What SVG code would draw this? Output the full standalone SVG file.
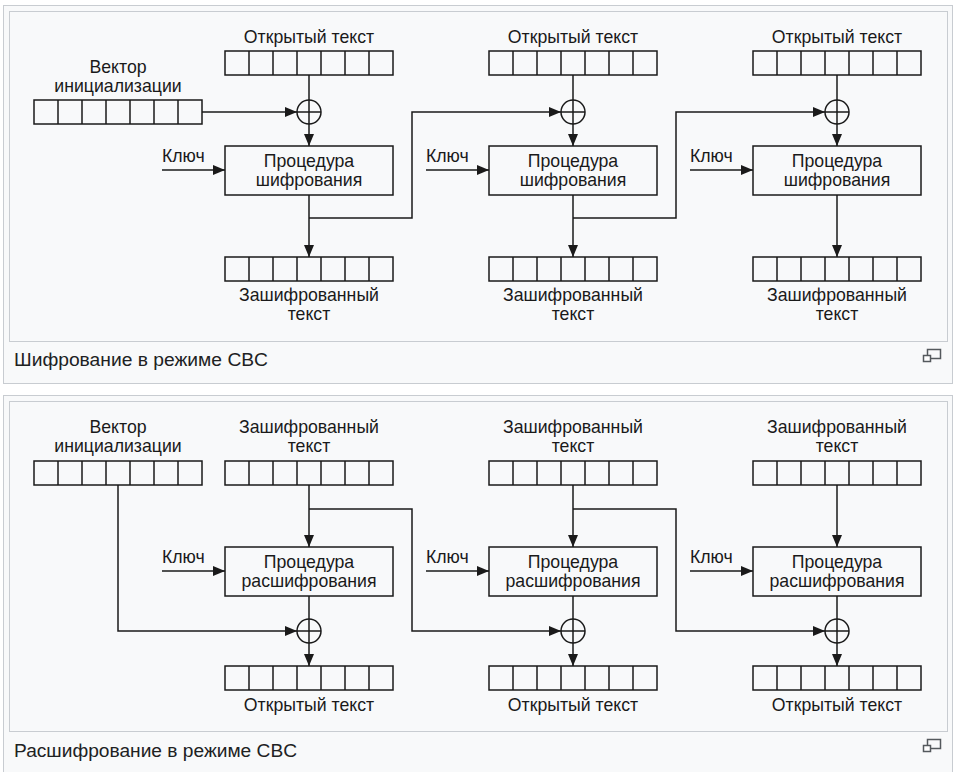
<svg xmlns="http://www.w3.org/2000/svg" xmlns:xlink="http://www.w3.org/1999/xlink" width="956" height="772" viewBox="0 0 956 772">
<style>
.frame{fill:#f8f9fa;stroke:#c8ccd1;stroke-width:1}
.img{fill:#f8f9fa;stroke:#c8ccd1;stroke-width:1}
.t{font-family:"Liberation Sans",Arial,sans-serif;font-size:17.7px;fill:#1a1a1a;text-anchor:middle}
.k{font-family:"Liberation Sans",Arial,sans-serif;font-size:17.7px;fill:#1a1a1a}
.cap{font-family:"Liberation Sans",Arial,sans-serif;font-size:17.5px;fill:#202122}
.box{fill:none;stroke:#1a1a1a;stroke-width:1.5}
.ln{fill:none;stroke:#1a1a1a;stroke-width:1.5}
.arr{fill:none;stroke:#1a1a1a;stroke-width:1.5;marker-end:url(#ah)}
.icon{fill:#f8f9fa;stroke:#54595d;stroke-width:1.5}
</style>
<defs>
<marker id="ah" viewBox="0 0 12 10" refX="12" refY="5" markerWidth="12" markerHeight="10" markerUnits="userSpaceOnUse" orient="auto">
<path d="M0,0 L12,5 L0,10 z" fill="#1a1a1a"/>
</marker>
<g id="cells">
<rect x="0" y="0" width="168" height="24" class="box"/>
<path d="M24,0V24M48,0V24M72,0V24M96,0V24M120,0V24M144,0V24" class="ln"/>
</g>
<g id="xor">
<circle cx="0" cy="0" r="12" class="box"/>
<path d="M-12,0H12M0,-12V12" class="ln"/>
</g>
</defs>
<rect x="0" y="0" width="956" height="772" fill="#ffffff"/>

<!-- Frames -->
<g id="frame-top">
<rect x="3.5" y="5.5" width="949" height="378" class="frame"/>
<rect x="9.5" y="11.5" width="938" height="330" class="img"/>
<text x="14" y="366" class="cap" textLength="254" lengthAdjust="spacingAndGlyphs">Шифрование в режиме CBC</text>
<rect x="927.5" y="349.5" width="13" height="9" class="icon"/>
<rect x="923.5" y="355.5" width="7" height="6" class="icon" style="fill:#fff"/>
</g>
<g id="frame-bottom">
<rect x="3.5" y="395.5" width="949" height="380" class="frame"/>
<rect x="9.5" y="401.5" width="938" height="330" class="img"/>
<text x="14" y="757" class="cap" textLength="283" lengthAdjust="spacingAndGlyphs">Расшифрование в режиме CBC</text>
<rect x="927.5" y="739.5" width="13" height="9" class="icon"/>
<rect x="923.5" y="745.5" width="7" height="6" class="icon" style="fill:#fff"/>
</g>

<!-- ENCRYPTION -->
<g id="enc-iv">
<text x="118" y="73" class="t">Вектор</text>
<text x="118" y="92" class="t">инициализации</text>
<use xlink:href="#cells" x="34" y="100"/>
</g>
<g id="enc-p1">
<text x="309" y="43" class="t">Открытый текст</text>
<use xlink:href="#cells" x="225" y="51"/>
</g>
<g id="enc-p2">
<text x="573" y="43" class="t">Открытый текст</text>
<use xlink:href="#cells" x="489" y="51"/>
</g>
<g id="enc-p3">
<text x="837" y="43" class="t">Открытый текст</text>
<use xlink:href="#cells" x="753" y="51"/>
</g>
<g id="enc-x1"><use xlink:href="#xor" x="309" y="112"/></g>
<g id="enc-x2"><use xlink:href="#xor" x="573" y="112"/></g>
<g id="enc-x3"><use xlink:href="#xor" x="837" y="112"/></g>
<g id="enc-b1">
<rect x="225" y="146" width="168" height="49" class="box"/>
<text x="309" y="167" class="t">Процедура</text>
<text x="309" y="186" class="t">шифрования</text>
</g>
<g id="enc-b2">
<rect x="489" y="146" width="168" height="49" class="box"/>
<text x="573" y="167" class="t">Процедура</text>
<text x="573" y="186" class="t">шифрования</text>
</g>
<g id="enc-b3">
<rect x="753" y="146" width="168" height="49" class="box"/>
<text x="837" y="167" class="t">Процедура</text>
<text x="837" y="186" class="t">шифрования</text>
</g>
<g id="enc-k1"><text x="162" y="162" class="k">Ключ</text></g>
<g id="enc-k2"><text x="426" y="162" class="k">Ключ</text></g>
<g id="enc-k3"><text x="690" y="162" class="k">Ключ</text></g>
<g id="enc-c1">
<use xlink:href="#cells" x="225" y="257"/>
<text x="309" y="301" class="t">Зашифрованный</text>
<text x="309" y="320" class="t">текст</text>
</g>
<g id="enc-c2">
<use xlink:href="#cells" x="489" y="257"/>
<text x="573" y="301" class="t">Зашифрованный</text>
<text x="573" y="320" class="t">текст</text>
</g>
<g id="enc-c3">
<use xlink:href="#cells" x="753" y="257"/>
<text x="837" y="301" class="t">Зашифрованный</text>
<text x="837" y="320" class="t">текст</text>
</g>

<!-- DECRYPTION -->
<g id="dec-iv">
<text x="118" y="433" class="t">Вектор</text>
<text x="118" y="452" class="t">инициализации</text>
<use xlink:href="#cells" x="34" y="461"/>
</g>
<g id="dec-c1">
<text x="309" y="433" class="t">Зашифрованный</text>
<text x="309" y="452" class="t">текст</text>
<use xlink:href="#cells" x="225" y="461"/>
</g>
<g id="dec-c2">
<text x="573" y="433" class="t">Зашифрованный</text>
<text x="573" y="452" class="t">текст</text>
<use xlink:href="#cells" x="489" y="461"/>
</g>
<g id="dec-c3">
<text x="837" y="433" class="t">Зашифрованный</text>
<text x="837" y="452" class="t">текст</text>
<use xlink:href="#cells" x="753" y="461"/>
</g>
<g id="dec-b1">
<rect x="225" y="547" width="168" height="49" class="box"/>
<text x="309" y="568" class="t">Процедура</text>
<text x="309" y="587" class="t">расшифрования</text>
</g>
<g id="dec-b2">
<rect x="489" y="547" width="168" height="49" class="box"/>
<text x="573" y="568" class="t">Процедура</text>
<text x="573" y="587" class="t">расшифрования</text>
</g>
<g id="dec-b3">
<rect x="753" y="547" width="168" height="49" class="box"/>
<text x="837" y="568" class="t">Процедура</text>
<text x="837" y="587" class="t">расшифрования</text>
</g>
<g id="dec-k1"><text x="162" y="563" class="k">Ключ</text></g>
<g id="dec-k2"><text x="426" y="563" class="k">Ключ</text></g>
<g id="dec-k3"><text x="690" y="563" class="k">Ключ</text></g>
<g id="dec-x1"><use xlink:href="#xor" x="309" y="631"/></g>
<g id="dec-x2"><use xlink:href="#xor" x="573" y="631"/></g>
<g id="dec-x3"><use xlink:href="#xor" x="837" y="631"/></g>
<g id="dec-p1">
<use xlink:href="#cells" x="225" y="666"/>
<text x="309" y="711" class="t">Открытый текст</text>
</g>
<g id="dec-p2">
<use xlink:href="#cells" x="489" y="666"/>
<text x="573" y="711" class="t">Открытый текст</text>
</g>
<g id="dec-p3">
<use xlink:href="#cells" x="753" y="666"/>
<text x="837" y="711" class="t">Открытый текст</text>
</g>

<g id="connectors">
<!-- encryption -->
<path d="M309,75V100" class="ln"/>
<path d="M573,75V100" class="ln"/>
<path d="M837,75V100" class="ln"/>
<path d="M309,124V146" class="arr"/>
<path d="M573,124V146" class="arr"/>
<path d="M837,124V146" class="arr"/>
<path d="M202,112H297" class="arr"/>
<path d="M309,218H412V112H561" class="arr"/>
<path d="M573,218H676V112H825" class="arr"/>
<path d="M162,170H225" class="arr"/>
<path d="M426,170H489" class="arr"/>
<path d="M690,170H753" class="arr"/>
<path d="M309,195V257" class="arr"/>
<path d="M573,195V257" class="arr"/>
<path d="M837,195V257" class="arr"/>
<!-- decryption -->
<path d="M309,485V547" class="arr"/>
<path d="M573,485V547" class="arr"/>
<path d="M837,485V547" class="arr"/>
<path d="M309,509H412V631H561" class="arr"/>
<path d="M573,509H676V631H825" class="arr"/>
<path d="M118,485V631H297" class="arr"/>
<path d="M162,571H225" class="arr"/>
<path d="M426,571H489" class="arr"/>
<path d="M690,571H753" class="arr"/>
<path d="M309,596V619" class="ln"/>
<path d="M573,596V619" class="ln"/>
<path d="M837,596V619" class="ln"/>
<path d="M309,643V666" class="arr"/>
<path d="M573,643V666" class="arr"/>
<path d="M837,643V666" class="arr"/>
</g>
</svg>
